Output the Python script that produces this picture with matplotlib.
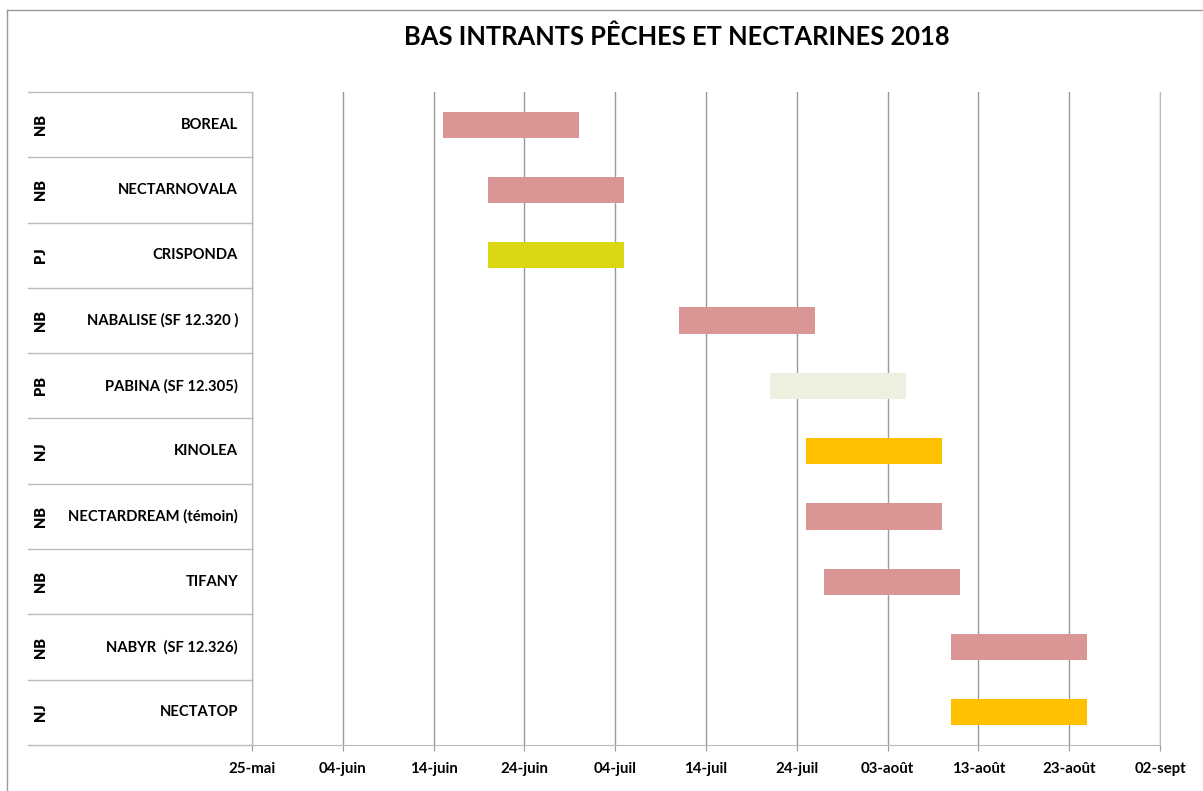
import numpy as np
import matplotlib
matplotlib.use("Agg")
import matplotlib.pyplot as plt
import matplotlib.dates as mdates
from matplotlib.lines import Line2D

plt.rcParams['font.family'] = ['Lato', 'DejaVu Sans']

# data
varietes = ["BOREAL", "NECTARNOVALA", "CRISPONDA", "NABALISE (SF 12.320 )",
            "PABINA (SF 12.305)", "KINOLEA", "NECTARDREAM (témoin)", "TIFANY",
            "NABYR  (SF 12.326)", "NECTATOP"]
types = ["NB", "NB", "PJ", "NB", "PB", "NJ", "NB", "NB", "NB", "NJ"]
debut = ["2018-06-15", "2018-06-20", "2018-06-20", "2018-07-11", "2018-07-21",
         "2018-07-25", "2018-07-25", "2018-07-27", "2018-08-10", "2018-08-10"]
duree = [15, 15, 15, 15, 15, 15, 15, 15, 15, 15]
couleurs = {"NB": "#D99694", "PJ": "#DCD714", "PB": "#EBF1DE", "NJ": "#FFC000"}

tick_dates = ["2018-05-25", "2018-06-04", "2018-06-14", "2018-06-24", "2018-07-04",
              "2018-07-14", "2018-07-24", "2018-08-03", "2018-08-13", "2018-08-23",
              "2018-09-02"]
tick_labels = ["25-mai", "04-juin", "14-juin", "24-juin", "04-juil", "14-juil",
               "24-juil", "03-août", "13-août", "23-août", "02-sept"]

fig = plt.figure(figsize=(12.03, 7.91), dpi=100)
ax = fig.add_axes([252 / 1203, 1 - 745 / 791, 908 / 1203, (745 - 92) / 791])

starts = mdates.datestr2num(debut)
ticks = mdates.datestr2num(tick_dates)
y = np.arange(len(varietes))

ax.barh(y, duree, left=starts, height=0.4,
        color=[couleurs[t] for t in types], zorder=3)

ax.set_xlim(ticks[0], ticks[-1])
ax.set_ylim(len(varietes) - 0.5, -0.5)
ax.set_xticks(ticks)
ax.set_xticklabels(tick_labels, fontsize=10.8, fontweight='bold')
ax.set_yticks([])
ax.tick_params(axis='x', length=4, color='#999999', pad=8)
ax.grid(axis='x', color='#999999', linewidth=1, zorder=0)

for s in ['top', 'left']:
    ax.spines[s].set_visible(False)
ax.spines['right'].set_color('#BBBBBB')
ax.spines['bottom'].set_color('#BBBBBB')

# category labels on the left
x0 = (28 - 252) / 908
for i in range(len(varietes) + 1):
    ax.add_line(Line2D([x0, 0], [i - 0.5, i - 0.5], color='#BBBBBB', lw=1,
                       transform=ax.get_yaxis_transform(), clip_on=False))
ax.add_line(Line2D([0, 0], [-0.5, len(varietes) - 0.5], color='#BBBBBB', lw=1,
                   transform=ax.get_yaxis_transform(), clip_on=False))
for i, (v, t) in enumerate(zip(varietes, types)):
    ax.text(-14 / 908, i, v, transform=ax.get_yaxis_transform(), ha='right',
            va='center', fontsize=10.6, fontweight='bold')
    ax.text((40 - 252) / 908, i, t, transform=ax.get_yaxis_transform(),
            ha='center', va='center', rotation=90, fontsize=10.5, fontweight='heavy')

fig.text(677 / 1203, 1 - 37 / 791, "BAS INTRANTS PÊCHES ET NECTARINES 2018",
         ha='center', va='center', fontsize=18.4, fontweight='bold')

# chart frame
fig.add_artist(Line2D([7 / 1203, 7 / 1203], [0, 1 - 10 / 791], color='#999999', lw=1))
fig.add_artist(Line2D([7 / 1203, 1], [1 - 10 / 791, 1 - 10 / 791], color='#999999', lw=1))

fig.savefig("out.png", dpi=100)
